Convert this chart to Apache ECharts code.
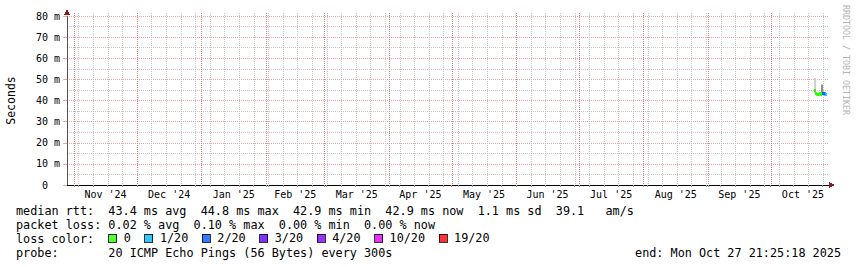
<!DOCTYPE html>
<html><head><meta charset="utf-8">
<script src="https://cdn.jsdelivr.net/npm/echarts@6/dist/echarts.min.js"></script>
<style>html,body{margin:0;padding:0;background:#fff}#c{width:857px;height:267px}#c svg path{shape-rendering:crispEdges}</style>
</head><body><div id="c"></div>
<script>
// ---------- data ----------
const axisStart = '2024-10-28T12:00:00Z';
const axisEnd = '2025-10-29T00:00:00Z';
const monthStarts = ['2024-11-01','2024-12-01','2025-01-01','2025-02-01','2025-03-01','2025-04-01','2025-05-01','2025-06-01','2025-07-01','2025-08-01','2025-09-01','2025-10-01'];
const monthLabels = ["Nov '24","Dec '24","Jan '25","Feb '25","Mar '25","Apr '25","May '25","Jun '25","Jul '25","Aug '25","Sep '25","Oct '25"];
const firstWeekStart = '2024-11-03';
const yTickValues = [0,10,20,30,40,50,60,70,80];

const times = ['2025-10-22T06:00:00Z','2025-10-22T18:00:00Z','2025-10-23T06:00:00Z','2025-10-23T18:00:00Z',
  '2025-10-24T06:00:00Z','2025-10-24T18:00:00Z','2025-10-25T06:00:00Z','2025-10-25T18:00:00Z',
  '2025-10-26T06:00:00Z','2025-10-26T18:00:00Z','2025-10-27T06:00:00Z'];
const medianMs = [44.6, 43.2, 43.0, 42.9, 43.0, 43.1, 43.0, 43.3, 43.4, 43.2, 43.0];
const lossCount = [0, 0, 0, 0, 0, 0, 0, 0, 2, 1, 1];
const pingMin = [43.0, 42.9, 42.7, 42.6, 42.7, 42.8, 42.7, 43.0, 43.0, 42.9, 42.8];
const pingQ1  = [44.2, 43.0, 42.8, 42.7, 42.8, 42.9, 42.8, 43.6, 43.2, 43.0, 42.9];
const pingQ3  = [45.5, 43.5, 43.3, 43.2, 43.3, 43.4, 43.3, 47.3, 43.7, 43.5, 43.3];
const pingMax = [50.6, 43.8, 43.5, 43.4, 43.5, 43.6, 43.5, 47.6, 44.0, 43.8, 43.5];

const lossLevels = ['0','1/20','2/20','3/20','4/20','10/20','19/20'];
const lossLevelCounts = [0, 1, 2, 3, 4, 10, 19];
const lossColors = ['#26ff00','#00b8ff','#0059ff','#5e00ff','#7e00ff','#dd00ff','#ff0000'];

const statLines = [
  'median rtt:  43.4 ms avg  44.8 ms max  42.9 ms min  42.9 ms now  1.1 ms sd  39.1   am/s',
  'packet loss: 0.02 % avg  0.10 % max  0.00 % min  0.00 % now',
  'loss color:',
  'probe:       20 ICMP Echo Pings (56 Bytes) every 300s'
];
const endText = 'end: Mon Oct 27 21:25:18 2025';
const yAxisName = 'Seconds';
const watermark = 'RRDTOOL / TOBI OETIKER';

// ---------- build ----------
const T = s => new Date(s.length <= 10 ? s + 'T00:00:00Z' : s).getTime();
const xMin = T(axisStart), xMax = T(axisEnd);
const monthVals = monthStarts.map(T);
const monthMids = monthVals.map(v => {
  const d = new Date(v);
  const next = Date.UTC(d.getUTCFullYear(), d.getUTCMonth() + 1, 1);
  return (v + next) / 2;
});
const weekVals = [];
for (let v = T(firstWeekStart); v <= xMax; v += 7 * 86400000) weekVals.push(v);
const tv = times.map(T);

const MONO = 'DejaVu Sans Mono';
const RED_GRID = '#f0a0a0';
const RED_VGRID = '#e67c7c';
const GREY_GRID = '#c8c8c8';
const ARROW = '#8b1a1a';

function vGridSeries(name, vals, color, z) {
  return {
    name, type: 'custom', z, silent: true, animation: false, clip: false,
    encode: { x: 0, y: 1 },
    data: vals.map(v => [v, 0]),
    renderItem: (params, api) => {
      const cs = params.coordSys;
      const x = Math.round(api.coord([api.value(0), 0])[0]) + 0.5;
      return { type: 'line', shape: { x1: x, y1: cs.y - 3, x2: x, y2: cs.y + cs.height },
               style: { stroke: color, lineWidth: 1, lineDash: [1, 1] } };
    }
  };
}
function smokeSeries(name, lo, hi, color) {
  return {
    name, type: 'custom', z: 3, silent: true, animation: false,
    encode: { x: 0, y: [1, 2] },
    data: tv.map((t, i) => [t, lo[i], hi[i]]),
    renderItem: (params, api) => {
      const a = api.coord([api.value(0), api.value(1)]);
      const b = api.coord([api.value(0), api.value(2)]);
      return { type: 'rect', shape: { x: a[0] - 1, y: b[1], width: 2, height: a[1] - b[1] }, style: { fill: color } };
    }
  };
}

const series = [
  vGridSeries('weekGrid', weekVals, GREY_GRID, 1),
  vGridSeries('monthGrid', monthVals, RED_VGRID, 2),
  smokeSeries('smokeLo', pingMin, pingQ1, '#cfcfcf'),
  smokeSeries('smokeHi', pingQ3, pingMax, '#cfcfcf'),
  smokeSeries('smokeMid', pingQ1, pingQ3, '#8f8f8f')
];
lossLevels.forEach((name, k) => {
  series.push({
    name, type: 'scatter', z: 5, animation: false, silent: true,
    symbol: 'rect', symbolSize: [2.6, 3],
    itemStyle: { color: lossColors[k] },
    data: tv.map((t, i) => lossCount[i] === lossLevelCounts[k] ? [t, medianMs[i]] : null).filter(Boolean)
  });
});

const chart = echarts.init(document.getElementById('c'), null, { renderer: 'svg', width: 857, height: 267 });
chart.setOption({
  backgroundColor: '#ffffff',
  animation: false,
  grid: { left: 67, right: 28, top: 16, bottom: 82, containLabel: false, outerBoundsMode: 'none' },
  xAxis: [{
    type: 'value', min: xMin, max: xMax, position: 'bottom', scale: true,
    axisLine: { show: true, onZero: false, lineStyle: { color: '#000', width: 1 } },
    axisTick: { show: true, customValues: weekVals.concat(monthVals), length: 2, inside: false, lineStyle: { color: '#999' } },
    axisLabel: {
      customValues: monthMids, margin: 4, fontFamily: MONO, fontSize: 10, color: '#000',
      formatter: v => { const i = monthMids.indexOf(v); return i >= 0 ? monthLabels[i] : ''; }
    },
    splitLine: { show: false }
  }, {
    type: 'value', min: xMin, max: xMax, position: 'bottom', scale: true,
    axisLine: { show: true, onZero: false, lineStyle: { color: ARROW, width: 1, opacity: 0 }, symbol: ['none', 'triangle'], symbolSize: [6, 6], symbolOffset: [0, 3] },
    axisTick: { show: false }, axisLabel: { show: false }, splitLine: { show: false }
  }],
  yAxis: [{
    type: 'value', min: yTickValues[0], max: yTickValues[yTickValues.length - 1], interval: yTickValues[1] - yTickValues[0],
    name: yAxisName, nameLocation: 'middle', nameGap: 50, nameRotate: 90,
    nameTextStyle: { fontFamily: MONO, fontSize: 11.5, color: '#000' },
    axisLine: { show: true, lineStyle: { color: '#555', width: 1 } },
    axisTick: { show: true, length: 4, lineStyle: { color: RED_GRID } },
    axisLabel: {
      margin: 7, fontFamily: MONO, fontSize: 10, color: '#000',
      formatter: v => v === 0 ? '{z|0}' : v + ' m',
      rich: { z: { fontFamily: MONO, fontSize: 10, color: '#000', padding: [0, 12, 0, 0] } }
    },
    splitLine: { show: true, lineStyle: { color: RED_GRID, type: [1, 1], width: 1 } },
    minorTick: { show: false, splitNumber: 2 },
    minorSplitLine: { show: true, lineStyle: { color: GREY_GRID, type: [1, 1], width: 1 } }
  }, {
    type: 'value', position: 'left', min: yTickValues[0], max: yTickValues[yTickValues.length - 1],
    axisLine: { show: true, lineStyle: { color: ARROW, width: 1, opacity: 0 }, symbol: ['none', 'triangle'], symbolSize: [6, 6], symbolOffset: [0, 4] },
    axisTick: { show: false }, axisLabel: { show: false }, splitLine: { show: false }
  }],
  legend: {
    left: 108.3, top: 232, padding: 0, orient: 'horizontal',
    itemWidth: 8, itemHeight: 8, itemGap: 13.5, icon: 'rect', selectedMode: false,
    data: lossLevels,
    itemStyle: { borderColor: '#000', borderWidth: 1 },
    textStyle: { fontFamily: MONO, fontSize: 11.8, color: '#000', padding: [0, 0, 0, 2] }
  },
  graphic: statLines.map((s, i) => ({
    type: 'text', x: 16, y: 211 + 14 * i, silent: true,
    style: { text: s, fontFamily: MONO, fontSize: 11.8, fill: '#000', align: 'left', verticalAlign: 'middle' }
  })).concat([
    { type: 'text', x: 841, y: 253, silent: true,
      style: { text: endText, fontFamily: MONO, fontSize: 11.8, fill: '#000', align: 'right', verticalAlign: 'middle' } },
    { type: 'text', x: 846, y: 5, rotation: -Math.PI / 2, silent: true,
      style: { text: watermark, fontFamily: MONO, fontSize: 8.3, fill: '#b4b4b4', align: 'left', verticalAlign: 'middle' } }
  ]),
  series
});
</script>
</body></html>
